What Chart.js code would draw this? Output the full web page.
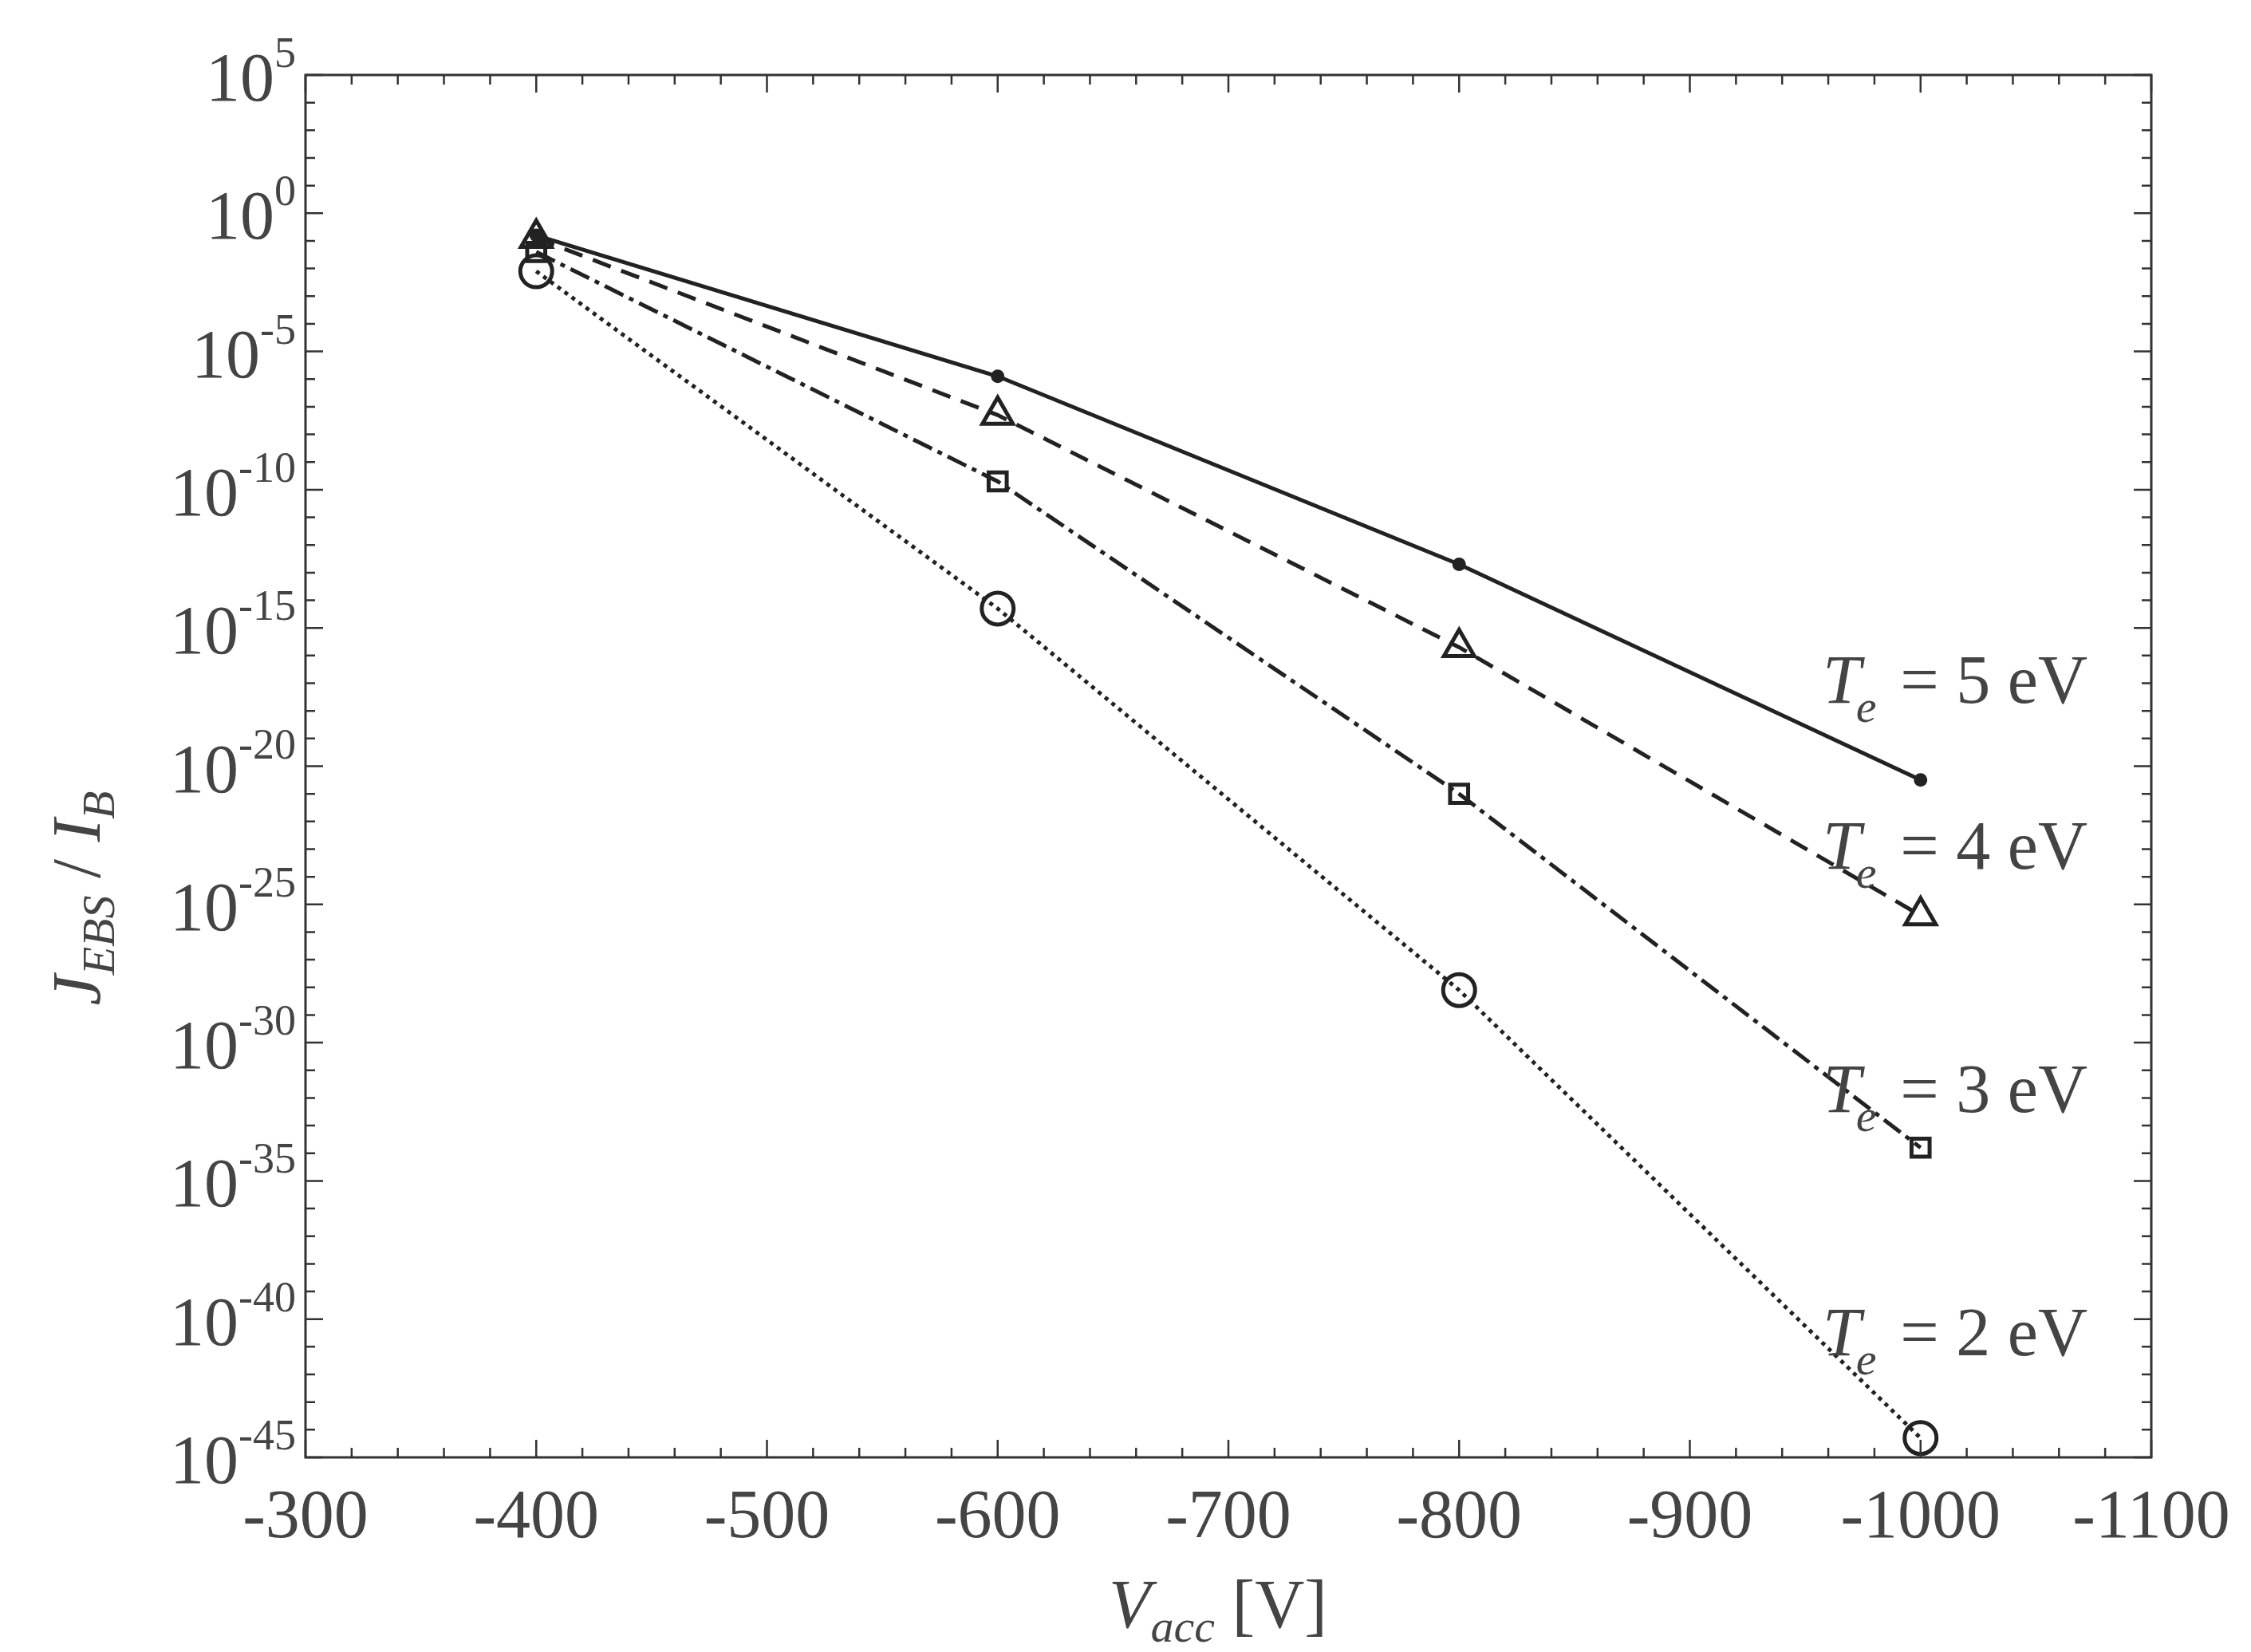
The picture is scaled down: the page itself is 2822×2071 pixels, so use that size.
<!DOCTYPE html>
<html>
<head>
<meta charset="utf-8">
<script src="https://cdn.jsdelivr.net/npm/chart.js@4/dist/chart.umd.min.js"></script>
<style>
  html, body { margin: 0; padding: 0; background: #fff; }
  #wrap { width: 2822px; height: 2071px; }
  .pre { font-family: "Liberation Serif"; position: absolute; left: -9999px; }
</style>
</head>
<body>
<span class="pre">a</span><span class="pre" style="font-style:italic">a</span>
<div id="wrap"><canvas id="chart" width="2822" height="2071"></canvas></div>
<script>
// --- data (y values are log10 of J_EBS / I_B) ---
var voltages = [-400, -600, -800, -1000];
var te5 = [-0.8, -5.9, -12.7, -20.5];
var te4 = [-0.9, -7.3, -15.7, -25.4];
var te3 = [-1.4, -9.7, -21.0, -33.8];
var te2 = [-2.1, -14.3, -28.1, -44.3];
var seriesLabels = ['T_e = 5 eV', 'T_e = 4 eV', 'T_e = 3 eV', 'T_e = 2 eV'];
var yTicks = [5, 0, -5, -10, -15, -20, -25, -30, -35, -40, -45];

var SERIF = '"Liberation Serif", "Times New Roman", serif';
var INK = '#333';
var TXT = '#444';

function pts(ys) {
    return voltages.map(function (v, i) { return { x: v, y: ys[i] }; });
}

function ds(ys, dash, style, radius) {
    return {
        data: pts(ys),
        borderColor: '#222',
        borderWidth: 5,
        borderDash: dash,
        pointStyle: style,
        pointRadius: radius,
        pointBorderWidth: 5,
        pointBorderColor: '#222',
        pointBackgroundColor: style === 'circle' && radius < 8 ? '#222' : 'rgba(255,255,255,0)'
    };
}

// frame, inward ticks, tick labels, axis titles, series labels
var decorPlugin = {
    id: 'decor',
    afterDraw: function (chart) {
        var c = chart.ctx, a = chart.chartArea;
        var xs = chart.scales.x, ys = chart.scales.y;
        c.save();
        c.strokeStyle = INK;
        c.lineWidth = 3;
        c.strokeRect(a.left, a.top, a.right - a.left, a.bottom - a.top);
        c.lineWidth = 2.5;
        for (var v = -1100; v <= -300; v += 20) {
            var px = xs.getPixelForValue(v), len = (v % 100 === 0) ? 22 : 12;
            c.beginPath();
            c.moveTo(px, a.bottom); c.lineTo(px, a.bottom - len);
            c.moveTo(px, a.top); c.lineTo(px, a.top + len);
            c.stroke();
        }
        for (var y = -45; y <= 5; y += 1) {
            var py = ys.getPixelForValue(y), l2 = (y % 5 === 0) ? 22 : 12;
            c.beginPath();
            c.moveTo(a.left, py); c.lineTo(a.left + l2, py);
            c.moveTo(a.right, py); c.lineTo(a.right - l2, py);
            c.stroke();
        }

        c.fillStyle = TXT;
        c.textBaseline = 'alphabetic';

        // x tick labels
        c.textAlign = 'center';
        c.font = '86px ' + SERIF;
        for (var t = -1100; t <= -300; t += 100) {
            c.fillText(String(t), xs.getPixelForValue(t), a.bottom + 100);
        }

        // y tick labels: 10 with raised exponent
        c.textAlign = 'left';
        yTicks.forEach(function (e) {
            var py = ys.getPixelForValue(e) + 32;
            c.font = '54px ' + SERIF;
            var ew = c.measureText(String(e)).width;
            c.font = '86px ' + SERIF;
            var bw = c.measureText('10').width;
            var x0 = a.left - 12 - bw - ew;
            c.fillText('10', x0, py);
            c.font = '54px ' + SERIF;
            c.fillText(String(e), x0 + bw, py - 42);
        });

        // x title: V_acc [V]
        var bx = (a.left + a.right) / 2 - 150, by = 2040;
        c.font = 'italic 86px ' + SERIF;
        c.fillText('V', bx, by);
        var w = c.measureText('V').width;
        c.font = 'italic 58px ' + SERIF;
        c.fillText('acc', bx + w, by + 18);
        var w2 = c.measureText('acc').width;
        c.font = '86px ' + SERIF;
        c.fillText(' [V]', bx + w + w2, by);

        // y title: J_EBS / I_B (rotated)
        c.save();
        c.translate(125, (a.top + a.bottom) / 2 + 300);
        c.rotate(-Math.PI / 2);
        var x0 = 0;
        c.font = 'italic 86px ' + SERIF;
        c.fillText('J', x0, 0); x0 += c.measureText('J').width;
        c.font = 'italic 58px ' + SERIF;
        c.fillText('EBS', x0, 18); x0 += c.measureText('EBS').width;
        c.font = '86px ' + SERIF;
        c.fillText(' / ', x0, 0); x0 += c.measureText(' / ').width;
        c.font = 'italic 86px ' + SERIF;
        c.fillText('I', x0, 0); x0 += c.measureText('I').width;
        c.font = 'italic 58px ' + SERIF;
        c.fillText('B', x0, 18);
        c.restore();

        // series labels
        var labelY = [-17.7, -23.7, -32.5, -41.3];
        labelY.forEach(function (lv, i) {
            var lx = 2285, ly = ys.getPixelForValue(lv);
            c.font = 'italic 86px ' + SERIF;
            c.fillText('T', lx, ly);
            var tw = c.measureText('T').width;
            c.font = 'italic 58px ' + SERIF;
            c.fillText('e', lx + tw - 6, ly + 24);
            c.font = '86px ' + SERIF;
            c.fillText(seriesLabels[i].slice(3), lx + tw + 28, ly);
        });
        c.restore();
    }
};

function draw() {
    new Chart(document.getElementById('chart').getContext('2d'), {
        type: 'line',
        data: {
            datasets: [
                ds(te5, [], 'circle', 6),
                ds(te4, [24, 14], 'triangle', 22),
                ds(te3, [26, 8, 6, 8], 'rect', 16),
                ds(te2, [5, 6], 'circle', 20)
            ]
        },
        options: {
            responsive: false,
            animation: false,
            devicePixelRatio: 1,
            layout: { padding: { left: 0, right: 125, top: 94, bottom: 0 } },
            plugins: { legend: { display: false }, tooltip: { enabled: false } },
            scales: {
                x: {
                    type: 'linear',
                    reverse: true,
                    min: -1100, max: -300,
                    grid: { display: false },
                    border: { display: false },
                    ticks: { display: false, stepSize: 100 },
                    afterFit: function (s) { s.height = 244; }
                },
                y: {
                    type: 'linear',
                    min: -45, max: 5,
                    afterBuildTicks: function (s) {
                        s.ticks = yTicks.map(function (v) { return { value: v }; });
                    },
                    grid: { display: false },
                    border: { display: false },
                    ticks: { display: false },
                    afterFit: function (s) { s.width = 383; }
                }
            }
        },
        plugins: [decorPlugin]
    });
}

Promise.all([
    document.fonts.load('86px "Liberation Serif"'),
    document.fonts.load('italic 86px "Liberation Serif"')
]).then(draw, draw);
</script>
</body>
</html>
